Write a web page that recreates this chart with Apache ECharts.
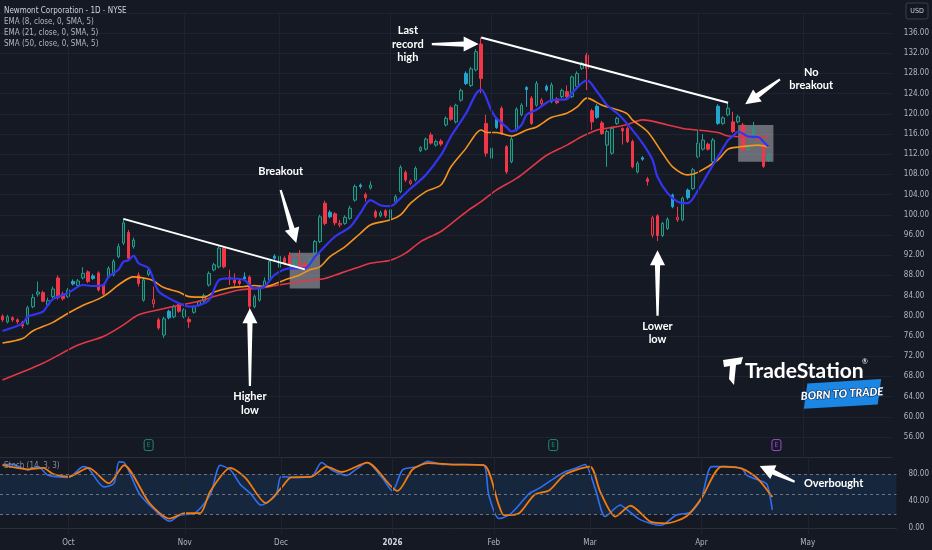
<!DOCTYPE html>
<html>
<head>
<meta charset="utf-8">
<script src="https://cdn.jsdelivr.net/npm/echarts@6/dist/echarts.min.js"></script>
<style>
html,body{margin:0;padding:0;background:#151924;overflow:hidden}
#chart{width:932px;height:550px}
</style>
</head>
<body>
<div id="chart"></div>
<script>
// ---------- trading-day categories (day numbers per month) ----------
const sepDays = [12,15,16,17,18,19,22,23,24,25,26,29,30];
const octDays = [1,2,3,6,7,8,9,10,13,14,15,16,17,20,21,22,23,24,27,28,29,30,31];
const novDays = [3,4,5,6,7,10,11,12,13,14,17,18,19,20,21,24,25,26,28];
const decDays = [1,2,3,4,5,8,9,10,11,12,15,16,17,18,19,22,23,24,26,29,30,31];
const janDays = [2,5,6,7,8,9,12,13,14,15,16,20,21,22,23,26,27,28,29,30];
const febDays = [2,3,4,5,6,9,10,11,12,13,17,18,19,20,23,24,25,26,27];
const marDays = [2,3,4,5,6,9,10,11,12,13,16,17,18,19,20,23,24,25,26,27,30,31];
const aprDays = [1,2,6,7,8,9,10,13,14,15,16,17,20,21,22,23,24,27,28,29,30];
const mayDays = [1,4,5,6,7,8,11,12,13,14,15,18,19,20,21,22,25,26];
const monthTickLabels = {1:'2026',2:'Feb',3:'Mar',4:'Apr',5:'May',10:'Oct',11:'Nov',12:'Dec'};

// ---------- OHLC (candle index 0 = 2025-09-12) ----------
const opens = [
 79.9,78.8,79.6,79.2,78.7,78.4,81.8,84.3,84.6,82.2,
 83.8,87.5,84.3,83.8,86.8,86.0,87.5,88.7,87.9,88.5,
 86.1,87.7,88.1,91.7,94.4,96.5,93.7,88.1,83.1,88.2,
 82.4,79.2,76.2,80.9,79.8,82.3,79.8,79.3,80.7,82.1,
 82.9,86.1,89.1,89.7,93.4,87.6,87.1,86.9,87.7,87.7,
 81.8,83.1,85.8,87.1,91.8,89.6,91.4,92.0,90.1,89.8,
 90.3,90.1,92.4,94.7,102.3,100.5,100.2,98.0,98.3,99.3,
 102.9,105.9,104.0,105.3,100.6,99.8,100.8,99.3,102.6,104.6,
 108.4,106.2,106.9,112.7,113.0,115.8,113.8,114.6,117.8,121.2,
 118.4,122.7,128.0,125.6,128.7,133.8,118.1,111.2,118.9,121.1,
 113.5,110.5,116.8,119.8,125.2,123.1,121.7,122.0,125.4,122.4,
 122.9,123.4,124.4,123.4,125.4,129.0,131.6,120.6,121.5,118.2,
 113.8,112.2,118.1,117.1,117.1,114.5,108.5,111.3,107.1,96.0,
 99.8,95.9,97.3,103.9,99.0,99.0,104.9,105.2,111.5,113.0,
 114.0,110.5,121.5,118.1,119.8,118.4,118.4,117.8,112.9,115.8,
 114.8,113.4,110.8];
const closes = [
 79.2,79.8,79.2,78.8,78.0,81.6,83.6,84.7,82.9,83.0,
 85.3,83.6,83.4,85.1,86.3,86.9,88.4,86.8,87.4,85.1,
 84.3,89.4,90.8,93.7,98.4,91.4,95.0,86.4,87.1,89.0,
 83.2,77.6,79.4,79.6,81.8,80.9,81.2,78.8,81.8,82.8,
 84.0,88.4,90.1,93.4,89.7,87.3,86.5,86.4,87.3,81.9,
 83.8,85.7,86.9,90.8,91.4,91.8,90.4,90.1,90.9,90.4,
 89.5,91.0,94.7,99.6,98.3,99.6,98.4,98.3,99.5,101.3,
 105.6,105.6,103.4,105.9,99.6,100.4,99.8,101.0,103.6,109.4,
 106.9,106.7,109.2,113.3,115.0,114.2,114.5,114.0,119.1,118.9,
 121.7,124.6,126.0,128.9,132.3,127.0,112.2,113.2,117.3,116.1,
 108.5,115.0,120.9,121.7,124.8,118.1,126.0,122.7,124.7,125.7,
 122.2,124.6,123.4,127.3,128.0,130.0,129.0,118.4,119.3,116.1,
 116.5,117.1,119.1,116.6,114.5,109.5,110.2,111.0,106.6,99.4,
 95.9,98.3,99.1,101.6,99.5,103.3,103.4,108.9,114.2,114.8,
 113.0,114.8,118.1,119.2,121.1,116.5,119.4,112.8,113.5,116.8,
 115.5,109.6,111.8];
const lows = [
 78.8,78.5,78.8,78.4,77.5,78.2,81.5,83.8,82.7,81.9,
 83.5,83.2,83.0,83.5,86.0,85.7,87.2,86.5,87.1,84.8,
 84.0,87.4,87.8,91.4,94.0,91.0,93.3,85.8,82.8,87.8,
 81.6,77.2,75.6,79.3,79.5,80.6,79.5,77.6,80.4,81.8,
 82.6,85.8,88.8,89.4,89.4,86.1,85.8,86.0,87.0,81.3,
 81.5,82.8,85.5,86.8,91.0,89.3,90.1,89.8,89.9,89.5,
 89.2,89.8,92.1,94.4,97.9,99.3,97.9,97.5,98.0,99.0,
 102.6,105.2,102.6,105.0,99.3,99.5,99.4,97.9,102.3,104.3,
 106.5,105.9,106.6,112.4,112.7,113.9,113.5,113.6,117.5,118.6,
 118.1,122.4,125.7,125.3,128.4,124.1,111.5,110.9,117.0,115.8,
 108.1,110.2,116.5,119.5,121.4,117.8,121.4,121.7,124.4,122.1,
 121.9,123.1,123.1,123.1,125.1,128.7,124.7,116.8,119.0,115.8,
 109.5,111.9,117.8,113.9,114.2,109.2,108.2,110.7,105.8,95.5,
 94.8,95.6,97.0,101.3,98.6,98.7,103.0,104.9,111.2,112.7,
 112.7,110.2,117.8,117.8,119.5,116.2,118.1,112.5,112.6,115.5,
 114.5,109.3,110.5];
const highs = [
 80.3,80.2,79.9,79.5,79.0,82.0,84.3,86.8,85.0,83.6,
 85.8,88.0,84.8,85.5,87.2,87.3,89.6,89.0,88.3,88.8,
 86.4,89.8,91.2,94.3,99.3,97.0,95.5,88.6,87.5,89.5,
 85.8,79.6,79.8,81.2,82.2,82.6,81.5,79.8,82.1,83.1,
 84.4,88.8,90.5,93.8,93.6,89.1,88.4,87.3,88.6,88.0,
 84.2,86.0,87.6,91.2,92.2,93.0,91.8,92.6,91.3,93.0,
 90.6,91.5,95.0,100.0,102.8,100.9,100.5,99.0,99.9,101.8,
 106.0,106.2,104.4,106.6,101.0,100.8,101.1,101.3,104.0,109.8,
 108.8,107.0,109.6,113.6,115.3,116.3,114.9,115.0,119.5,121.6,
 122.0,125.0,128.4,129.3,132.8,135.1,119.8,113.6,119.3,121.5,
 113.8,115.5,121.3,122.1,125.5,123.5,126.5,123.1,125.8,126.2,
 123.3,125.0,125.6,127.6,128.4,130.3,132.1,121.0,121.9,118.6,
 116.9,117.5,119.4,117.3,117.5,114.9,110.6,111.6,107.5,99.8,
 100.1,98.6,99.5,104.2,101.6,103.6,105.2,109.3,116.8,116.0,
 114.3,115.2,121.9,119.5,122.2,120.4,119.8,118.2,113.9,118.4,
 116.0,114.0,112.2];

// ---------- moving averages: [candle index, value] ----------
const ema8 = [[0,77.0],[4,78.5],[5,79.8],[8,80.8],[9,82.1],[10,83.3],[13,84.5],[16,86.1],[18,85.9],[20,86.1],[21,87.7],[23,89.1],[24,90.7],[25,91.0],[26,91.9],[27,90.4],[29,89.4],[30,87.1],[31,84.8],[33,83.5],[35,82.5],[37,81.8],[39,82.1],[41,83.1],[43,87.1],[45,87.4],[48,87.1],[49,86.1],[50,85.4],[52,85.8],[54,88.1],[57,89.4],[60,89.4],[62,91.7],[63,92.7],[66,95.7],[69,97.6],[71,100.3],[73,102.9],[75,101.9],[77,101.7],[79,103.3],[81,105.2],[84,107.9],[87,111.8],[89,115.5],[92,120.1],[94,124.0],[95,124.8],[97,120.7],[98,119.1],[100,117.4],[101,116.5],[103,117.8],[104,119.8],[106,120.8],[109,122.7],[112,122.9],[113,124.1],[116,126.6],[118,124.4],[120,121.7],[122,120.1],[124,118.0],[127,114.2],[129,110.9],[130,107.5],[132,104.3],[134,102.6],[136,102.3],[138,104.8],[140,108.2],[142,111.5],[144,114.8],[145,115.6],[146,116.5],[148,115.5],[150,115.4],[151,114.5],[152,113.5]];
const ema21 = [[0,74.6],[4,75.5],[6,77.0],[10,78.7],[13,80.5],[16,82.1],[19,83.3],[21,84.5],[23,86.1],[26,87.7],[29,87.3],[30,86.9],[32,85.6],[35,84.7],[37,83.8],[40,83.7],[42,84.7],[45,85.5],[48,85.8],[50,86.0],[52,85.8],[56,87.1],[59,88.1],[61,89.1],[63,89.7],[65,91.7],[68,93.7],[71,96.3],[73,98.0],[77,99.0],[79,100.0],[81,102.3],[84,104.6],[87,105.9],[89,109.5],[92,113.2],[94,116.1],[95,116.8],[96,116.3],[98,116.3],[101,115.6],[104,116.8],[106,117.4],[109,119.3],[112,120.1],[114,121.3],[116,123.1],[119,121.7],[122,120.8],[124,120.0],[125,118.8],[128,116.5],[131,112.2],[133,109.5],[136,107.9],[138,108.4],[142,110.9],[144,113.0],[146,113.4],[150,113.8],[152,113.4]];
const sma50 = [[0,67.3],[8,70.6],[15,74.2],[20,75.9],[24,78.2],[27,80.2],[31,81.2],[35,82.1],[39,82.9],[43,84.1],[47,85.1],[52,85.6],[59,86.8],[64,87.4],[67,88.4],[70,89.4],[73,90.4],[77,91.0],[80,92.4],[83,94.7],[87,96.7],[90,99.0],[93,101.3],[95,102.6],[98,104.9],[102,107.2],[105,109.5],[108,111.8],[112,113.8],[115,115.5],[118,116.8],[121,117.3],[124,117.9],[127,118.8],[132,117.8],[135,117.1],[142,116.3],[144,115.6],[152,115.3]];

// ---------- stochastic (14,3,3) ----------
const stochK = [[0,94],[2,94],[5,86],[7,91],[9,78],[13,75],[16,91],[17,88],[20,61],[22,66],[23,98],[24,97],[27,51],[30,27],[33,10],[35,19],[38,22],[41,49],[43,93],[45,86],[47,64],[49,51],[51,34],[54,49],[55,76],[58,75],[61,76],[63,97],[65,86],[68,78],[70,88],[72,97],[75,74],[77,55],[79,86],[82,91],[84,99],[87,94],[91,94],[95,93],[96,49],[98,14],[100,19],[102,34],[104,51],[106,59],[109,74],[111,83],[113,88],[115,94],[117,59],[119,17],[122,34],[123,29],[126,12],[130,4],[133,19],[136,24],[138,44],[140,91],[143,91],[146,88],[147,78],[150,69],[151,64],[152,27]];
const stochD = [[0,93],[5,87],[8,89],[10,80],[13,76],[17,89],[21,66],[24,93],[29,37],[33,14],[36,22],[39,22],[41,54],[45,89],[48,74],[52,37],[55,59],[57,75],[61,76],[64,91],[67,83],[72,97],[78,55],[81,87],[84,96],[89,94],[95,93],[98,34],[99,19],[102,22],[105,49],[108,56],[111,79],[116,91],[118,54],[121,17],[124,33],[128,9],[131,7],[135,17],[138,44],[142,91],[146,88],[149,74],[152,46]];

// ---------- build categories ----------
const monthDefs = [['2025-09',sepDays],['2025-10',octDays],['2025-11',novDays],['2025-12',decDays],
  ['2026-01',janDays],['2026-02',febDays],['2026-03',marDays],['2026-04',aprDays],['2026-05',mayDays]];
const dates = [];
monthDefs.forEach(([m, ds]) => ds.forEach(d => dates.push(m + '-' + String(d).padStart(2,'0'))));
const monthStart = dates.map((d,i) => i > 0 && d.slice(0,7) !== dates[i-1].slice(0,7));
const monthStartIdx = dates.map((d,i)=>i).filter(i => monthStart[i]);

// ---------- candle styling (hollow-candle scheme) ----------
const GREEN = '#1f9e89', CYAN = '#22a4cc', RED = '#f23645';
const candleData = opens.map((o, i) => {
  const c = closes[i], pc = i ? closes[i-1] : o;
  const up = c >= pc, filled = c < o;
  const col = up ? (filled ? CYAN : GREEN) : RED;
  const fill = filled ? col : (up ? 'rgba(31,158,137,0.16)' : 'rgba(242,54,69,0.16)');
  return {value:[o, c, lows[i], highs[i]],
    itemStyle:{color:fill, color0:fill, borderColor:col, borderColor0:col, borderWidth:1}};
});

const NARROW = "'Liberation Sans Narrow','DejaVu Sans Condensed',Roboto,sans-serif";
const AXC = '#b2b5be';
const GRIDC = '#1f2330';

const chart = echarts.init(document.getElementById('chart'), null, {renderer:'canvas'});

const option = {
  backgroundColor:'#151924',
  animation:false,
  grid:[
    {left:-1, width:897.4, top:12.8, height:444.4},
    {left:-1, width:897.4, top:457.8, height:76.95}
  ],
  xAxis:[
    {type:'category', gridIndex:0, data:dates, boundaryGap:true,
     axisLabel:{show:false}, axisTick:{show:false}, splitLine:{show:false},
     axisLine:{show:true, lineStyle:{color:'#2a2e39'}}},
    {type:'category', gridIndex:1, data:dates, boundaryGap:true,
     axisTick:{show:false}, splitLine:{show:false},
     axisLine:{show:true, lineStyle:{color:'#2a2e39'}},
     axisLabel:{color:AXC, fontSize:8, fontFamily:NARROW, margin:4,
       interval:(idx)=>monthStart[idx],
       formatter:(v)=>{const m=parseInt(v.slice(5,7),10); return m===1?'{b|2026}':monthTickLabels[m];},
       rich:{b:{fontWeight:'bold', color:'#d1d4dc', fontSize:8, fontFamily:NARROW}}}}
  ],
  yAxis:[
    {type:'value', gridIndex:0, position:'right', min:52, max:140, interval:4,
     axisLine:{show:false}, axisTick:{show:false},
     splitLine:{lineStyle:{color:GRIDC, width:1}},
     axisLabel:{color:AXC, fontSize:8, fontFamily:NARROW, margin:12,
       formatter:(v)=> (v<54||v>138)?'':v.toFixed(2)}},
    {type:'value', gridIndex:1, position:'right', min:-10, max:104, interval:10,
     axisLine:{show:false}, axisTick:{show:false}, splitLine:{show:false},
     axisLabel:{color:AXC, fontSize:8, fontFamily:NARROW, margin:12,
       formatter:(v)=> (v===0||v===40||v===80)? v.toFixed(2):''}}
  ],
  series:[
    {type:'line', xAxisIndex:0, yAxisIndex:0, data:[], z:0, silent:true,
     markLine:{silent:true, symbol:['none','none'], label:{show:false}, animation:false,
       lineStyle:{color:GRIDC, width:1, type:'solid'},
       data: monthStartIdx.map(i=>({xAxis:i}))}},
    {type:'line', xAxisIndex:1, yAxisIndex:1, data:[], z:0, silent:true,
     markLine:{silent:true, symbol:['none','none'], label:{show:false}, animation:false,
       lineStyle:{color:GRIDC, width:1, type:'solid'},
       data: monthStartIdx.map(i=>({xAxis:i}))}},
    {type:'candlestick', name:'NEM', xAxisIndex:0, yAxisIndex:0, data:candleData,
     barWidth:3, z:2},
    {type:'line', name:'SMA50', xAxisIndex:0, yAxisIndex:0, data:sma50, showSymbol:false,
     smooth:0.3, lineStyle:{color:'#e23744', width:1.6}, z:3},
    {type:'line', name:'EMA21', xAxisIndex:0, yAxisIndex:0, data:ema21, showSymbol:false,
     smooth:0.3, lineStyle:{color:'#f7941d', width:1.6}, z:3},
    {type:'line', name:'EMA8', xAxisIndex:0, yAxisIndex:0, data:ema8, showSymbol:false,
     smooth:0.3, lineStyle:{color:'#3434f2', width:2.2}, z:4},
    {type:'line', xAxisIndex:0, yAxisIndex:0, data:[], z:6, silent:true,
     markArea:{silent:true, itemStyle:{color:'rgba(190,192,198,0.5)'},
       data:[[{coord:[57,92.5]},{coord:[63,85.4]}],[{coord:[146,117.8]},{coord:[153,110.5]}]]},
     markLine:{silent:true, symbol:['none','none'], label:{show:false},
       lineStyle:{color:'#ffffff', width:2, type:'solid'},
       data:[[{coord:[24,99.2]},{coord:[60,89.2]}],[{coord:[95,135.1]},{coord:[144,122.2]}]]}},
    {type:'line', name:'%K', xAxisIndex:1, yAxisIndex:1, data:stochK, showSymbol:false,
     smooth:0.25, lineStyle:{color:'#2f6ff2', width:1.6}, z:3,
     markArea:{silent:true, itemStyle:{color:'rgba(33,150,243,0.12)'},
       data:[[{yAxis:20},{yAxis:80}]]},
     markLine:{silent:true, symbol:['none','none'], label:{show:false},
       lineStyle:{color:'#6f727c', width:1, type:[3,3]},
       data:[{yAxis:80},{yAxis:50},{yAxis:20}]}},
    {type:'line', name:'%D', xAxisIndex:1, yAxisIndex:1, data:stochD, showSymbol:false,
     smooth:0.25, lineStyle:{color:'#f57b0c', width:1.8}, z:4}
  ]
};
chart.setOption(option);

// ---------- annotations anchored to data coordinates ----------
function px(i, v, grid){
  const i0 = Math.floor(i), f = i - i0;
  const a = chart.convertToPixel({gridIndex:grid}, [i0, v]);
  const b = chart.convertToPixel({gridIndex:grid}, [i0+1, v]);
  return [a[0] + (b[0]-a[0])*f, a[1]];
}
function arrowPts(t, h, L, H, w1, w0){
  const dx=h[0]-t[0], dy=h[1]-t[1], len=Math.hypot(dx,dy);
  const ux=dx/len, uy=dy/len, nx=-uy, ny=ux;
  const bx=h[0]-ux*L, by=h[1]-uy*L;
  return [[t[0]+nx*w0,t[1]+ny*w0],[bx+nx*w1,by+ny*w1],[bx+nx*H,by+ny*H],[h[0],h[1]],
          [bx-nx*H,by-ny*H],[bx-nx*w1,by-ny*w1],[t[0]-nx*w0,t[1]-ny*w0]];
}
const notes = [
  {lines:['Breakout'], at:[55.2,108.5], grid:0, tail:[55.2,104.9], head:[58.3,94.4]},
  {lines:['Last','record','high'], at:[80.45,133.8], grid:0, tail:[85.2,133.8], head:[94.5,133.8]},
  {lines:['No','breakout'], at:[160.5,126.9], grid:0, tail:[154.3,126.8], head:[147.4,121.9]},
  {lines:['Higher','low'], at:[49.1,62.6], grid:0, tail:[49.1,66.1], head:[49.1,81.5]},
  {lines:['Lower','low'], at:[130,76.6], grid:0, tail:[130,80.0], head:[130,93.0]},
  {lines:['Overbought'], at:[164.1,66.7], grid:1, tail:[156.4,68.6], head:[149.5,91.9]}
];
const earnings = [{i:29, color:'#1f8a78'},{i:109.3, color:'#1f8a78'},{i:153.6, color:'#a24bd1'}];

const g = [];
const legendLines = ['Newmont Corporation - 1D - NYSE','EMA (8, close, 0, SMA, 5)','EMA (21, close, 0, SMA, 5)','SMA (50, close, 0, SMA, 5)'];
legendLines.forEach((t,k)=>g.push({type:'text', x:4, y:11+k*11, z:50,
  style:{text:t, fill:k?'#b2b5be':'#d1d4dc', font:'8px '+NARROW, verticalAlign:'middle'}}));
g.push({type:'text', x:4, y:466, z:50, style:{text:'Stoch (14, 3, 3)', fill:'#8a8d96', font:'8px '+NARROW, verticalAlign:'middle'}});

notes.forEach(n=>{
  const c = px(n.at[0], n.at[1], n.grid);
  const gap = 13.5, k0 = -(n.lines.length-1)/2;
  n.lines.forEach((t,k)=>g.push({type:'text', x:c[0], y:c[1]+(k0+k)*gap, z:60,
    style:{text:t, fill:'#ffffff', font:'bold 11px Lato', align:'center', verticalAlign:'middle'}}));
  const t = px(n.tail[0], n.tail[1], n.grid), h = px(n.head[0], n.head[1], n.grid);
  g.push({type:'polygon', z:60, shape:{points:arrowPts(t,h,15,7.5,2.6,1.1)}, style:{fill:'#ffffff'}});
});

earnings.forEach(e=>{
  const p = px(e.i, 54.4, 0);
  g.push({type:'rect', z:40, shape:{x:p[0]-4.5, y:p[1]-5.5, width:9, height:11, r:2},
    style:{fill:'#151924', stroke:e.color, lineWidth:1}});
  g.push({type:'text', x:p[0], y:p[1]+0.5, z:41, style:{text:'E', fill:e.color, font:'7px '+NARROW, align:'center', verticalAlign:'middle'}});
});

// USD badge
g.push({type:'rect', z:40, shape:{x:906, y:3, width:22, height:16, r:2}, style:{fill:'#131722', stroke:'#3a3e4a', lineWidth:1}});
g.push({type:'text', x:917, y:11.5, z:41, style:{text:'USD', fill:'#d1d4dc', font:'7px '+NARROW, align:'center', verticalAlign:'middle'}});

// TradeStation watermark
g.push({type:'polygon', z:45, shape:{points:[[723,360],[743,357],[741,364],[736,365],[734,385],[729,379],[730,366],[724,367]]}, style:{fill:'#ffffff'}});
g.push({type:'text', x:745, y:371, z:45, style:{text:'TradeStation', fill:'#ffffff', font:'bold 21px Lato', verticalAlign:'middle'}});
g.push({type:'text', x:862, y:362, z:45, style:{text:'®', fill:'#ffffff', font:'7px Lato', verticalAlign:'middle'}});
g.push({type:'group', x:842, y:393.5, rotation:0.06, z:45, children:[
  {type:'polygon', z:45, shape:{points:[[-34,-12],[40,-12],[35,13],[-39,13]]}, style:{fill:'#1b86e3'}},
  {type:'text', x:0, y:0.5, z:46, style:{text:'BORN TO TRADE', fill:'#ffffff', stroke:'#0a2a55', lineWidth:1.2,
     font:'italic 900 11px Lato', align:'center', verticalAlign:'middle'}}
]});

chart.setOption({graphic:g});
</script>
</body>
</html>
